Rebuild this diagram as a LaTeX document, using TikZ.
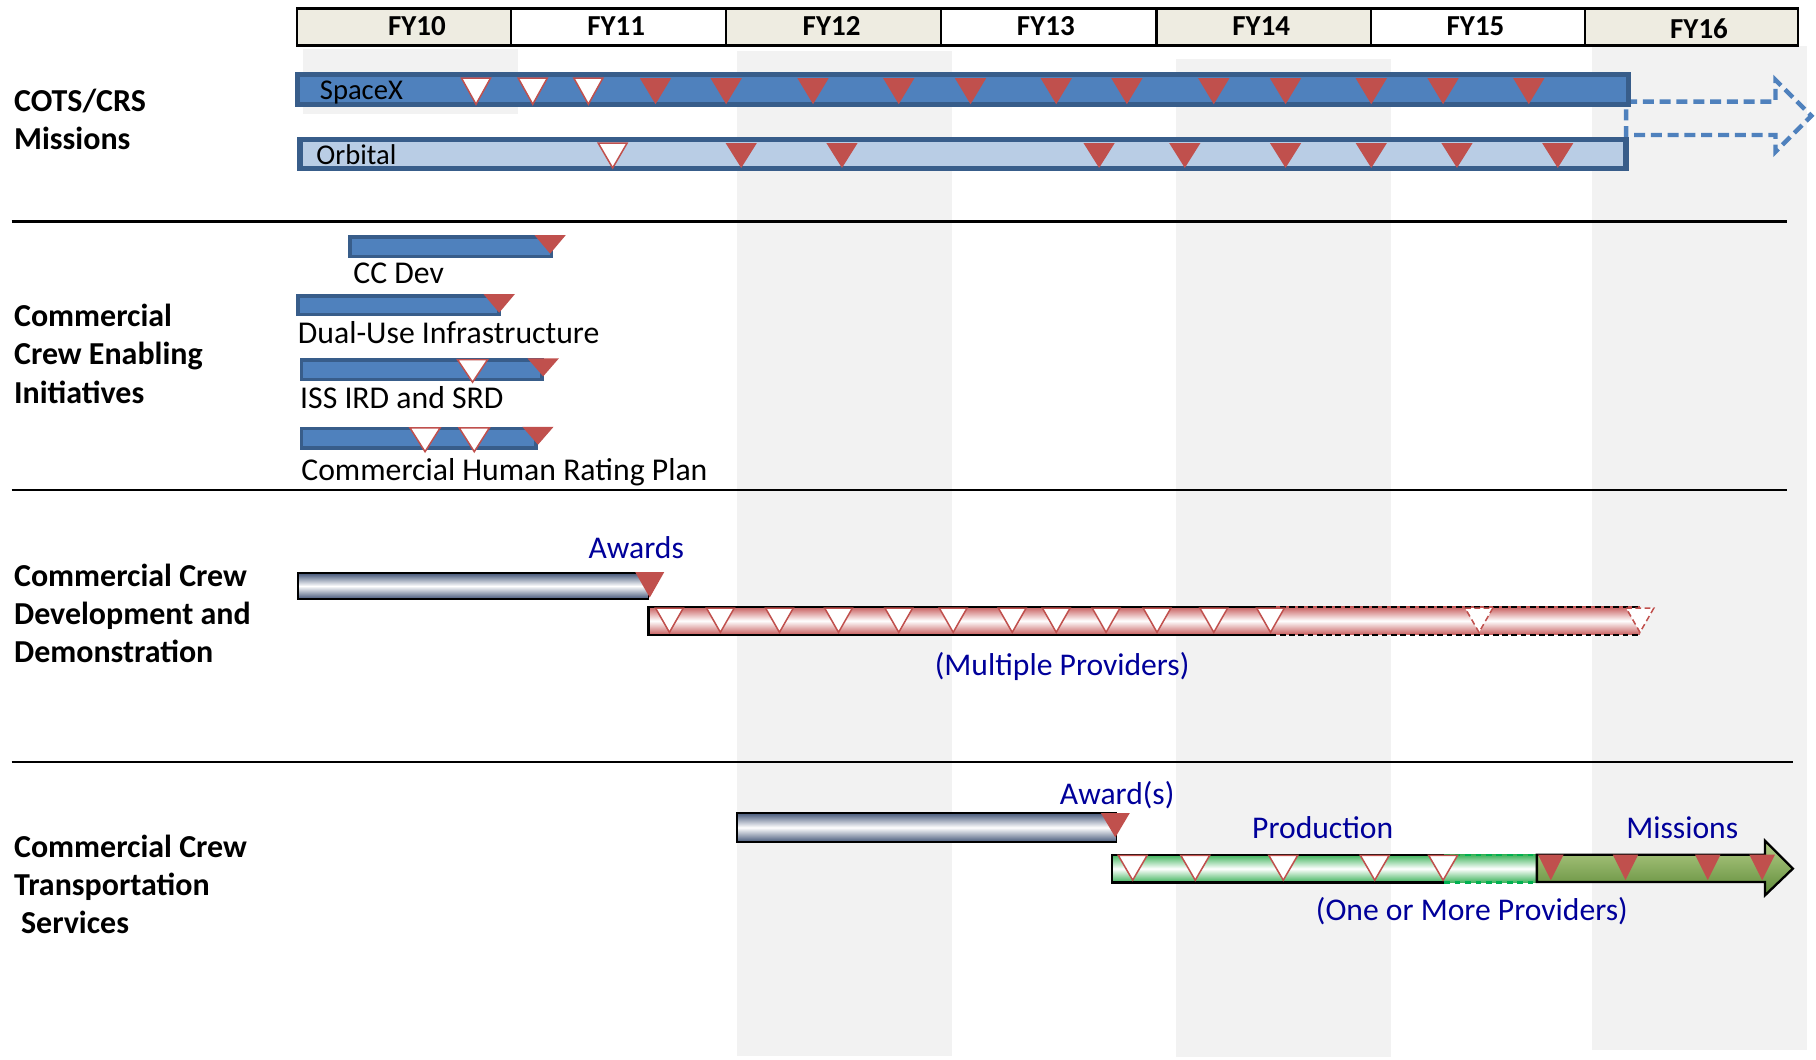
\documentclass[tikz,border=0pt]{standalone}
\usepackage{fontspec}
\setmainfont{Carlito}
\definecolor{cblue}{HTML}{4F81BD}
\definecolor{cbluedk}{HTML}{385D8A}
\definecolor{clight}{HTML}{B9CDE5}
\definecolor{cred}{HTML}{C0504D}
\definecolor{beige}{HTML}{EEECE1}
\definecolor{bandgrey}{HTML}{F2F2F2}
\definecolor{lblue}{HTML}{00009A}
\definecolor{slate}{HTML}{46587A}
\definecolor{rgrad}{HTML}{C85E5E}
\definecolor{ggrad}{HTML}{3DB35A}
\definecolor{gdash}{HTML}{00B050}
\definecolor{oliveL}{HTML}{B5CE88}
\definecolor{oliveD}{HTML}{5E8B38}
\newcommand{\dtri}[5]{\path[#1] ({#2-#5},#3) -- ({#2+#5},#3) -- (#2,#4) -- cycle;}
\begin{document}
\begin{tikzpicture}[x=1pt,y=-1pt,
  hdrbox/.style={draw=black,line width=2.2pt},
  hdr/.style={inner sep=0pt,anchor=base,font=\fontsize{25}{30}\selectfont\bfseries},
  sect/.style={inner sep=0pt,anchor=base west,font=\fontsize{27.6}{33}\selectfont\bfseries},
  barlab/.style={inner sep=0pt,anchor=base west,font=\fontsize{24.7}{29}\selectfont},
  inilab/.style={inner sep=0pt,anchor=base west,font=\fontsize{27.4}{32}\selectfont},
  bluelab/.style={inner sep=0pt,anchor=base west,text=lblue,font=\fontsize{27.3}{32}\selectfont},
  sepline/.style={draw=black,line width=2.3pt},
  bluebar/.style={fill=cblue,draw=cbluedk,line width=3pt},
  wtri/.style={fill=white,draw=cred,line width=1.3pt,line join=miter},
  rtri/.style={fill=cred},
  dashtri/.style={fill=white,draw=cred,line width=1.3pt,dash pattern=on 5pt off 3pt},
  greybar/.style={top color=slate,bottom color=slate,middle color=white,draw=black,line width=1.5pt},
  redbar/.style={top color=rgrad,bottom color=rgrad,middle color=white},
  greenbar/.style={top color=ggrad,bottom color=ggrad,middle color=white}
]
\useasboundingbox (0,0) rectangle (1568,914.4);
% background bands
\fill[bandgrey] (262,42.3) rectangle (447,98.2);
\fill[bandgrey] (636.5,43.8) rectangle (821.6,912);
\fill[bandgrey] (1015,51.2) rectangle (1201,913);
\fill[bandgrey] (1374.4,40) rectangle (1560,907);
% header
\draw[hdrbox,fill=beige] (256.3,7.2) rectangle (441.2,39.4);
\draw[hdrbox,fill=white] (441.2,7.2) rectangle (627,39.4);
\draw[hdrbox,fill=beige] (627,7.2) rectangle (812.5,39.4);
\draw[hdrbox,fill=white] (812.5,7.2) rectangle (998.6,39.4);
\draw[hdrbox,fill=beige] (998.6,7.2) rectangle (1183.8,39.4);
\draw[hdrbox,fill=white] (1183.8,7.2) rectangle (1368.4,39.4);
\draw[hdrbox,fill=beige] (1368.4,7.2) rectangle (1552.5,39.4);
\node[hdr] (fy10) at (360,31) {FY10};
\node[hdr] (fy11) at (532,31) {FY11};
\node[hdr] (fy12) at (718,31) {FY12};
\node[hdr] (fy13) at (903,31) {FY13};
\node[hdr] (fy14) at (1089,31) {FY14};
\node[hdr] (fy15) at (1274,31) {FY15};
\node[hdr] (fy16) at (1467,33) {FY16};
% separators
\draw[sepline] (10,191) -- (1543,191);
\draw[sepline] (10,423) -- (1543,423);
\draw[sepline] (10,658) -- (1548,658);
% section labels
\node[sect] (s1a) at (12,96) {COTS/CRS};
\node[sect] (s1b) at (12,129) {Missions};
\node[sect] (s2a) at (12,282) {Commercial};
\node[sect] (s2b) at (12,315) {Crew Enabling};
\node[sect] (s2c) at (12,348) {Initiatives};
\node[sect] (s3a) at (12,506) {Commercial Crew};
\node[sect] (s3b) at (12,539) {Development and};
\node[sect] (s3c) at (12,572) {Demonstration};
\node[sect] (s4a) at (12,740) {Commercial Crew};
\node[sect] (s4b) at (12,773) {Transportation};
\node[sect] (s4c) at (18,806) {Services};
% COTS/CRS bars
\draw[cblue,line width=3.8pt,dash pattern=on 9.5pt off 5pt,line join=miter]
  (1404,87.8) -- (1533,87.8) -- (1533,69) -- (1564,100) -- (1533,131) -- (1533,116.6) -- (1404,116.6) -- cycle;
\draw[bluebar,line width=4.5pt] (257,64.5) rectangle (1406,90.5);
\draw[fill=clight,draw=cbluedk,line width=5pt] (259,120.5) rectangle (1404,145.5);
\node[barlab] (spacex) at (276,86) {SpaceX};
\node[barlab] (orbital) at (273,142) {Orbital};
\foreach \x in {411,460,508} {\dtri{wtri}{\x}{67.5}{90}{12.5}}
\foreach \x in {566,627,702,776,838,912,973,1048,1110,1184,1246,1320} {\dtri{rtri}{\x}{67.5}{90}{13.5}}
\dtri{wtri}{529}{123.5}{145}{12.5}
\foreach \x in {640,727,949,1023,1110,1184,1258,1345} {\dtri{rtri}{\x}{123.5}{145}{13.5}}
% Enabling initiatives
\draw[bluebar] (302,204.5) rectangle (476,221.5);
\dtri{rtri}{475}{203}{219}{13.5}
\node[inilab] (ccdev) at (305,245) {CC Dev};
\draw[bluebar] (257.5,255.5) rectangle (431,271.5);
\dtri{rtri}{431}{254}{270}{13.5}
\node[inilab] (dual) at (257,297) {Dual-Use Infrastructure};
\draw[bluebar] (260.5,311) rectangle (468,327.5);
\dtri{wtri}{408}{310.5}{330}{13}
\dtri{rtri}{469}{309.5}{325}{13.5}
\node[inilab] (iss) at (259,353) {ISS IRD and SRD};
\draw[bluebar] (260.5,370) rectangle (463,387);
\dtri{wtri}{367}{369.5}{390}{13}
\dtri{wtri}{409.5}{369.5}{390}{13}
\dtri{rtri}{464.5}{368.5}{384}{13.5}
\node[inilab] (chrp) at (260,415) {Commercial Human Rating Plan};
% Development and demonstration
\draw[greybar] (257,495) rectangle (560,517);
\dtri{rtri}{561}{494}{516}{12.5}
\node[bluelab] (awards) at (508,482) {Awards};
\fill[redbar] (560,524) rectangle (1416,548);
\draw[black,line width=2pt] (1097,524) -- (560,524) -- (560,548) -- (1097,548);
\draw[black,line width=2pt,dash pattern=on 5pt off 3pt] (1097,524) -- (1416,524);
\draw[black,line width=2pt,dash pattern=on 5pt off 3pt] (1097,548) -- (1416,548);
\foreach \x in {578,622,673,724,776,823,874,912,955,999,1048,1097} {\dtri{wtri}{\x}{525}{546}{12}}
\dtri{dashtri}{1277}{525}{546}{12}
\dtri{dashtri}{1416}{525}{546}{12}
\node[bluelab] (multi) at (807,583) {(Multiple Providers)};
% Transportation services
\draw[greybar] (636.5,702) rectangle (964,727);
\dtri{rtri}{963}{702}{723}{12.5}
\node[bluelab] (award2) at (915,695) {Award(s)};
\node[bluelab] (prod) at (1081,724) {Production};
\node[bluelab] (miss) at (1404,724) {Missions};
\fill[greenbar] (960,738) rectangle (1327,762);
\draw[black,line width=2pt] (1247,738) -- (960,738) -- (960,762) -- (1247,762);
\draw[gdash,line width=2pt,dash pattern=on 5pt off 4pt] (1247,738) -- (1327,738);
\draw[gdash,line width=2pt,dash pattern=on 5pt off 4pt] (1247,762) -- (1327,762);
\draw[top color=oliveL,bottom color=oliveD,draw=black,line width=2pt,line join=miter]
  (1327,738) -- (1524,738) -- (1524,726) -- (1548,750) -- (1524,773) -- (1524,761.5) -- (1327,761.5) -- cycle;
\foreach \x in {978,1032,1108,1187,1246} {\dtri{wtri}{\x}{738.5}{760}{12.5}}
\foreach \x in {1339,1403.5,1474.5,1521.5} {\dtri{rtri}{\x}{738}{760}{11}}
\node[bluelab] (onemore) at (1136,795) {(One or More Providers)};
\end{tikzpicture}
\end{document}
